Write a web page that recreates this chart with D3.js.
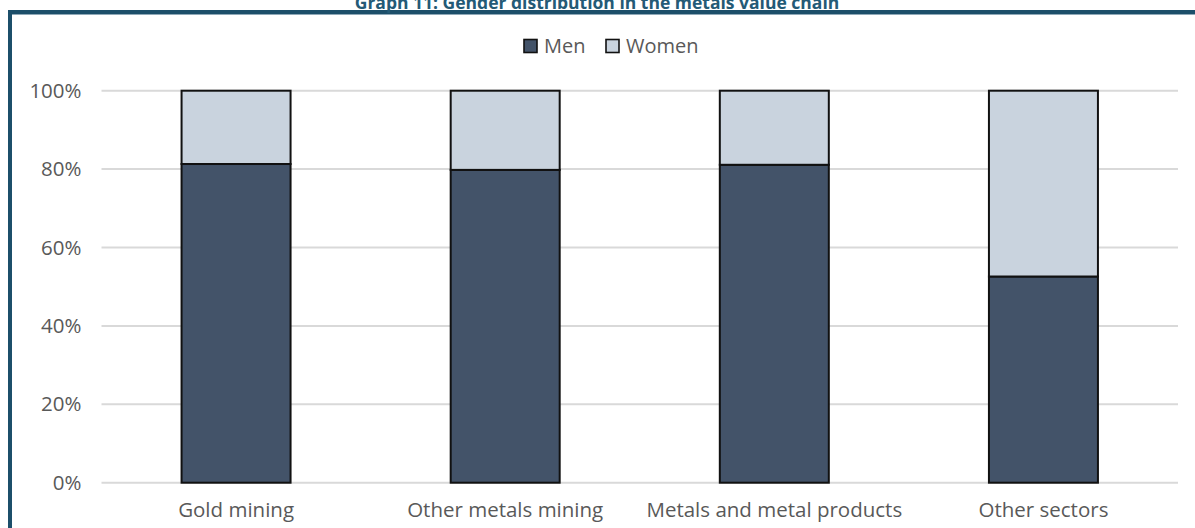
<!DOCTYPE html>
<html>
<head>
<meta charset="utf-8">
<script src="https://cdn.jsdelivr.net/npm/d3@7"></script>
<style>
  html, body { margin: 0; padding: 0; background: #fff; }
  svg { display: block; }
</style>
</head>
<body>
<svg id="chart" width="1195" height="528"></svg>
<script>
// Gender shares (per cent of employment) by segment of the metals value chain
const categories = ["Gold mining", "Other metals mining", "Metals and metal products", "Other sectors"];
const menShare = [81.3, 79.8, 81.1, 52.6];
const womenShare = menShare.map(v => 100 - v);
const seriesNames = ["Men", "Women"];
const seriesColors = ["#435369", "#c9d3de"];
const yTicks = [0, 20, 40, 60, 80, 100];

const svg = d3.select("#chart");
const W = 1195, H = 528;
const font = "'Open Sans', 'Noto Sans', sans-serif";

// Frame around the chart area
svg.append("rect")
  .attr("x", 10).attr("y", 12)
  .attr("width", W + 20).attr("height", H + 20)
  .attr("fill", "none")
  .attr("stroke", "#1c4f6a").attr("stroke-width", 4);
svg.append("line")
  .attr("x1", 12).attr("x2", W).attr("y1", 14.5).attr("y2", 14.5)
  .attr("stroke", "#8fa9b8").attr("stroke-width", 1);

// Title (partly above the frame)
svg.append("text")
  .attr("x", 597).attr("y", 9)
  .attr("text-anchor", "middle")
  .attr("font-family", font).attr("font-weight", "bold")
  .attr("font-size", 17.5).attr("fill", "#245a76")
  .text("Graph 11: Gender distribution in the metals value chain");

const margin = { left: 101.5, right: W - 1178, top: 90.7, bottom: H - 482.7 };

const x = d3.scaleBand()
  .domain(categories)
  .range([margin.left, W - margin.right])
  .paddingInner(0.595).paddingOuter(0.2975);

const y = d3.scaleLinear()
  .domain([0, 100])
  .range([H - margin.bottom, margin.top]);

// Gridlines
svg.append("g")
  .selectAll("line")
  .data(yTicks)
  .join("line")
  .attr("x1", margin.left).attr("x2", W - margin.right)
  .attr("y1", d => y(d)).attr("y2", d => y(d))
  .attr("stroke", "#d9d9d9").attr("stroke-width", 2);

// Y axis labels
const yAxis = svg.append("g")
  .attr("transform", `translate(${margin.left - 20},0)`)
  .call(d3.axisLeft(y).tickValues(yTicks).tickFormat(d => d + "%").tickSize(0).tickPadding(0));
yAxis.select(".domain").remove();
yAxis.selectAll("text")
  .attr("font-family", font).attr("font-size", 20.5).attr("fill", "#595959");

// X axis labels
const xAxis = svg.append("g")
  .attr("transform", `translate(0,${H - margin.bottom})`)
  .call(d3.axisBottom(x).tickSize(0).tickPadding(20));
xAxis.select(".domain").remove();
xAxis.selectAll("text")
  .attr("font-family", font).attr("font-size", 20.5).attr("fill", "#595959");

// Stacked bars
const rows = categories.map((c, i) => ({ cat: c, Men: menShare[i], Women: womenShare[i] }));
const stacked = d3.stack().keys(seriesNames)(rows);

svg.append("g")
  .selectAll("g")
  .data(stacked)
  .join("g")
  .attr("fill", (d, i) => seriesColors[i])
  .selectAll("rect")
  .data(d => d)
  .join("rect")
  .attr("x", d => x(d.data.cat))
  .attr("width", x.bandwidth())
  .attr("y", d => y(d[1]))
  .attr("height", d => y(d[0]) - y(d[1]))
  .attr("stroke", "#111").attr("stroke-width", 2);

// Legend
const legend = svg.append("g").attr("transform", "translate(524,46)");
const items = [
  { name: "Men", color: seriesColors[0], x: 0 },
  { name: "Women", color: seriesColors[1], x: 82 }
];
items.forEach(it => {
  legend.append("rect")
    .attr("x", it.x).attr("y", -6.5)
    .attr("width", 13).attr("height", 13)
    .attr("fill", it.color).attr("stroke", "#111").attr("stroke-width", 1.6);
  legend.append("text")
    .attr("x", it.x + 20).attr("y", 0)
    .attr("dy", "0.35em")
    .attr("font-family", font).attr("font-size", 20).attr("fill", "#595959")
    .text(it.name);
});
</script>
</body>
</html>
